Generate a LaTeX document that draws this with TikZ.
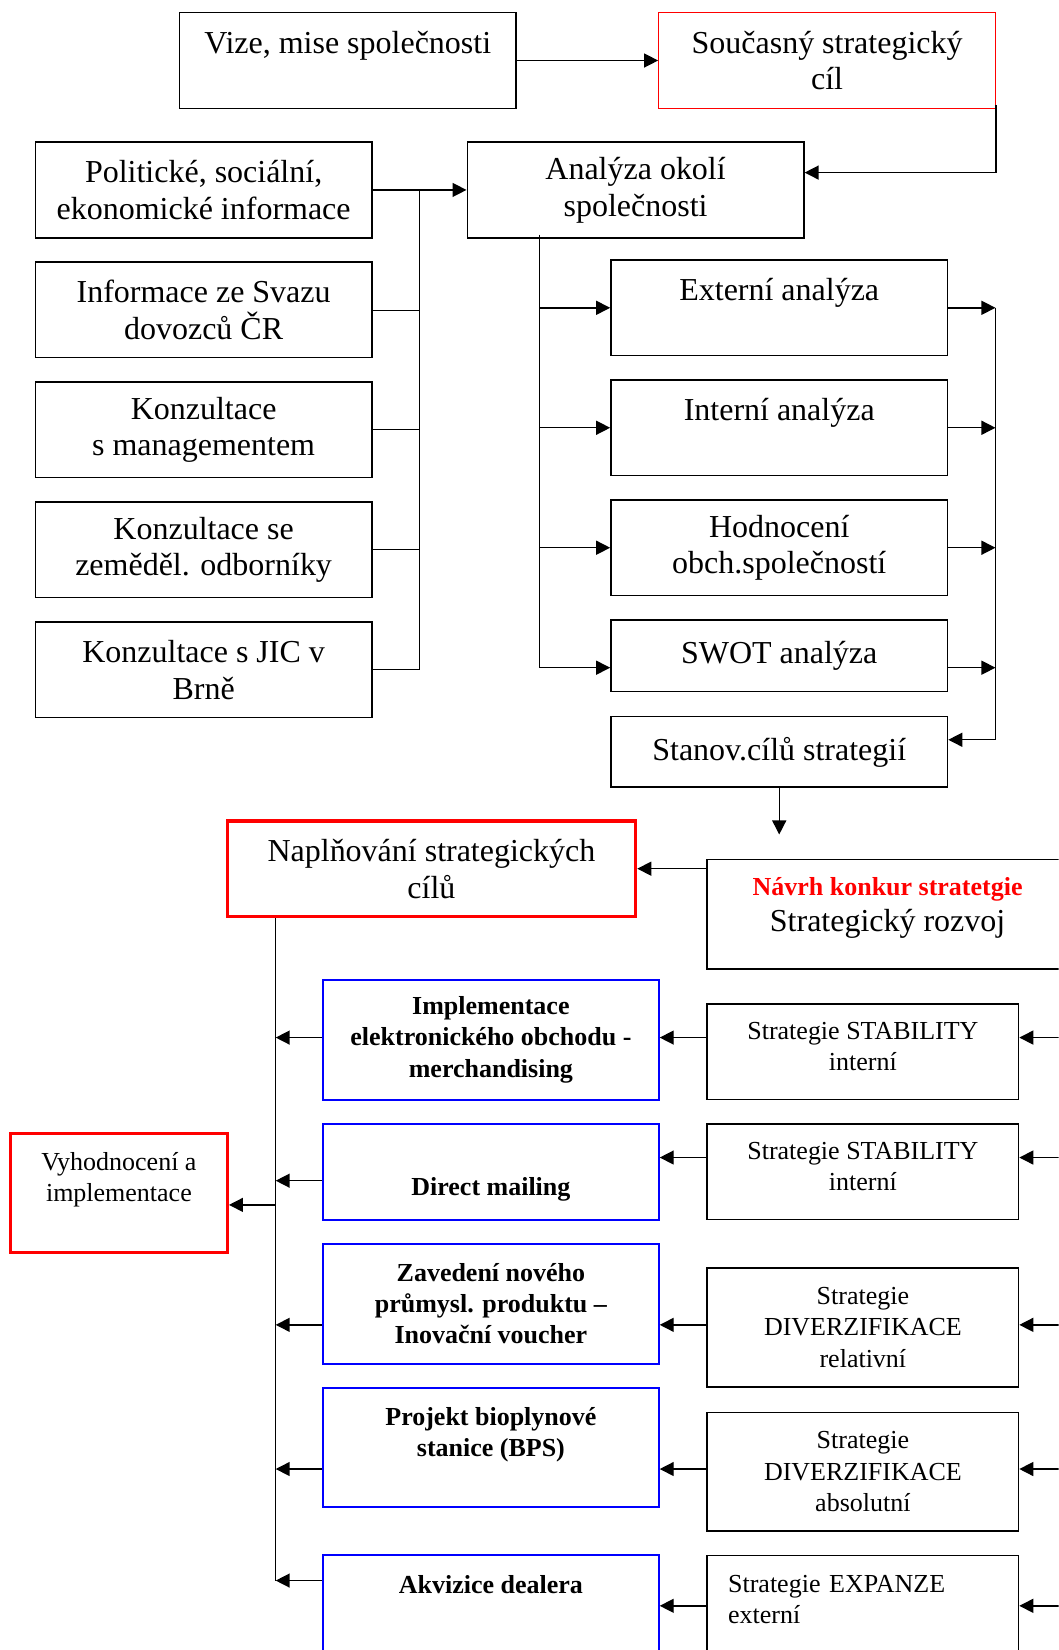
\documentclass[tikz,border=0pt]{standalone}
\usepackage{fontspec}
\setmainfont{Liberation Serif}
\usetikzlibrary{arrows.meta}
\newcommand{\unitpx}{0.5264pt}

\tikzset{
  box/.style={rectangle, draw, line width=0.7pt, align=center, minimum width=320*\unitpx, minimum height=91*\unitpx, font=\fontsize{16}{18.4}\selectfont},
  redbox/.style={box, draw=red, line width=1.7pt},
  bluebox/.style={box, draw=blue, line width=1pt, minimum width=319*\unitpx, minimum height=114*\unitpx, font=\fontsize{13}{15.6}\selectfont\bfseries},
  stratbox/.style={box, minimum width=296*\unitpx, minimum height=113*\unitpx, font=\fontsize{13}{15.6}\selectfont},
  arr/.style={-{Triangle[length=7pt,width=7pt]}, line width=0.7pt}
}

\begin{document}
\begin{tikzpicture}[x=\unitpx, y=-\unitpx]
\useasboundingbox (0,0) rectangle (1006,1568);
\clip (0,0) rectangle (1006,1568);

\node[box] (vize) at (330.5,57.5) {Vize, mise společnosti\\~};
\node[redbox, line width=0.6pt] (cil) at (786,57.5) {Současný strategický\\cíl};
\node[box] (polit) at (193.5,180.5) {Politické, sociální,\\ekonomické informace};
\node[box] (analyza) at (604,180.5) {Analýza okolí\\společnosti};
\node[box] (svaz) at (193.5,294.5) {Informace ze Svazu\\dovozců ČR};
\node[box] (mgmt) at (193.5,408.5) {Konzultace\\s managementem};
\node[box] (zemed) at (193.5,522.5) {Konzultace se\\zeměděl. odborníky};
\node[box] (jic) at (193.5,636.5) {Konzultace s JIC v\\Brně};
\node[box] (ext) at (740.5,292.5) {Externí analýza\\~};
\node[box] (int) at (740.5,406.5) {Interní analýza\\~};
\node[box] (hodn) at (740.5,520.5) {Hodnocení\\obch.společností};
\node[box, minimum height=68*\unitpx] (swot) at (740.5,623) {SWOT analýza};
\node[box, minimum height=67*\unitpx] (stanov) at (740.5,714.5) {Stanov.cílů strategií};

\node[redbox, minimum width=388*\unitpx] (napl) at (410,825.5) {Naplňování strategických\\cílů};
\node[box, minimum width=343*\unitpx, minimum height=104*\unitpx] (navrh) at (843.5,869) {{\fontsize{13}{15.6}\selectfont\bfseries\color{red}Návrh konkur stratetgie}\\Strategický rozvoj\\[-8.4pt]~};

\node[bluebox] (impl) at (466.5,988) {Implementace\\elektronického obchodu -\\merchandising};
\node[bluebox, minimum height=91*\unitpx] (direct) at (466.5,1113.5) {\strut\\Direct mailing};
\node[bluebox] (zaved) at (466.5,1239) {Zavedení nového\\průmysl. produktu –\\Inovační voucher};
\node[bluebox, minimum height=113*\unitpx] (bps) at (466.5,1375.5) {Projekt bioplynové\\stanice (BPS)\\~};
\node[bluebox] (akviz) at (466.5,1535) {Akvizice dealera\\~\\~};

\node[stratbox, minimum height=91*\unitpx] (stab1) at (820,999.5) {Strategie STABILITY\\interní\\[-10.3pt]~};
\node[stratbox, minimum height=91*\unitpx] (stab2) at (820,1113.5) {Strategie STABILITY\\interní\\[-10.3pt]~};
\node[stratbox] (divrel) at (820,1261.5) {Strategie\\DIVERZIFIKACE\\relativní};
\node[stratbox] (divabs) at (820,1398.5) {Strategie\\DIVERZIFIKACE\\absolutní};
\node[stratbox, minimum height=114*\unitpx, align=left, text width=134.8pt] (expanze) at (820,1535) {Strategie EXPANZE\\externí\\~};

\node[redbox, minimum width=206*\unitpx, minimum height=113*\unitpx, font=\fontsize{13}{15.6}\selectfont] (vyhod) at (113,1133.5) {Vyhodnocení a\\implementace\\~};

\coordinate (lbus) at (399,0);
\coordinate (abus) at (513,0);
\coordinate (sbus) at (946,0);
\coordinate (nbus) at (262,0);
\coordinate (rim) at (1012,0);
\coordinate (stanovend) at (740.5,793);

% horni cast
\draw[arr] (vize) -- (cil);
\draw[arr] ([yshift=4*\unitpx]cil.south east) |- ([yshift=16.5*\unitpx]analyza.east);
\draw[arr] (polit) -- (analyza);
\draw (lbus |- polit.east) -- (lbus |- jic.east);
\foreach \n in {svaz,mgmt,zemed,jic}
  \draw (\n.east) -- (lbus |- \n.east);

\draw (abus |- 0,223) -- (abus |- 0,634.5);
\foreach \n in {ext,int,hodn} {
  \draw[arr] (abus |- \n.west) -- (\n.west);
  \draw[arr] (\n.east) -- (sbus |- \n.east);
}
\draw[arr] (abus |- 0,634.5) -- (swot.west |- 0,634.5);
\draw[arr] (swot.east |- 0,634.5) -- (sbus |- 0,634.5);
\draw[arr] (sbus |- ext.east) |- (stanov.east |- 0,703);
\draw[arr] (stanov) -- (stanovend);

% dolni cast
\draw[arr] (navrh.west |- napl.east) -- (napl.east);
\draw (nbus |- napl.south) -- (nbus |- 0,1502);
\foreach \n/\y in {impl/986,direct/1122,zaved/1259,bps/1396,akviz/1502}
  \draw[arr] (\n.west |- 0,\y) -- (nbus |- 0,\y);
\draw[arr] (nbus |- 0,1145) -- (vyhod.east |- 0,1145);
\foreach \s/\b/\y in {stab1/impl/986,stab2/direct/1100,divrel/zaved/1259,divabs/bps/1396,expanze/akviz/1526} {
  \draw[arr] (\s.west |- 0,\y) -- (\b.east |- 0,\y);
  \draw[arr] (rim |- 0,\y) -- (\s.east |- 0,\y);
}
\end{tikzpicture}
\end{document}
